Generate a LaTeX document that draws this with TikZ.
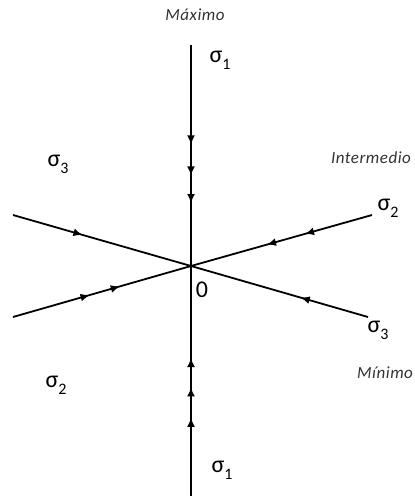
\documentclass[tikz,border=0pt]{standalone}
\usepackage{fontspec}
\setmainfont{Carlito}
\usetikzlibrary{arrows.meta,decorations.markings}
\newcommand\sbs[1]{\raisebox{-0.28em}{\fontsize{16}{16}\selectfont #1}}
\tikzset{
  axis/.style={line width=1.8pt},
  arrowat/.style={postaction={decorate,decoration={markings,
      mark=at position #1 with {\arrow{Latex[length=9pt,width=8pt]}}}}},
  lab/.style={font=\fontsize{17}{17}\selectfont\itshape\addfontfeature{LetterSpace=3}, text=black!80, inner sep=0pt},
  sig/.style={font=\fontsize{24}{24}\selectfont, inner sep=0pt},
}
\begin{document}
\begin{tikzpicture}[x=1pt,y=-1pt]
\useasboundingbox (0,0) rectangle (415,496);
\coordinate (O) at (191,266);
\coordinate (T) at (191,45);
\coordinate (B) at (191,496);
\coordinate (UL) at (13,215);
\coordinate (LL) at (13,317);
\coordinate (UR) at (372,215);
\coordinate (LR) at (368,317);
% vertical axis
\draw[axis, arrowat=0.45, arrowat=0.59, arrowat=0.715] (T) -- (O);
\draw[axis, arrowat=0.34, arrowat=0.472, arrowat=0.60] (B) -- (O);
% left lines
\draw[axis, arrowat=0.39] (UL) -- (O);
\draw[axis, arrowat=0.43, arrowat=0.60] (LL) -- (O);
% right lines
\draw[axis, arrowat=0.37, arrowat=0.58] (UR) -- (O);
\draw[axis, arrowat=0.38] (LR) -- (O);
% labels
\node[lab] (max) at (195,15) {Máximo};
\node[lab] (int) at (371,158) {Intermedio};
\node[lab, anchor=west] (min) at (357,373) {Mínimo};
\node[sig] (s1t) at (220,60) {σ\sbs{1}};
\node[sig] (s3l) at (58,164) {σ\sbs{3}};
\node[sig] (s2r) at (388,208) {σ\sbs{2}};
\node[sig] (zero) at (202,290) {0};
\node[sig] (s3r) at (378,330) {σ\sbs{3}};
\node[sig] (s2l) at (56,385) {σ\sbs{2}};
\node[sig] (s1b) at (222,470) {σ\sbs{1}};
\end{tikzpicture}
\end{document}
